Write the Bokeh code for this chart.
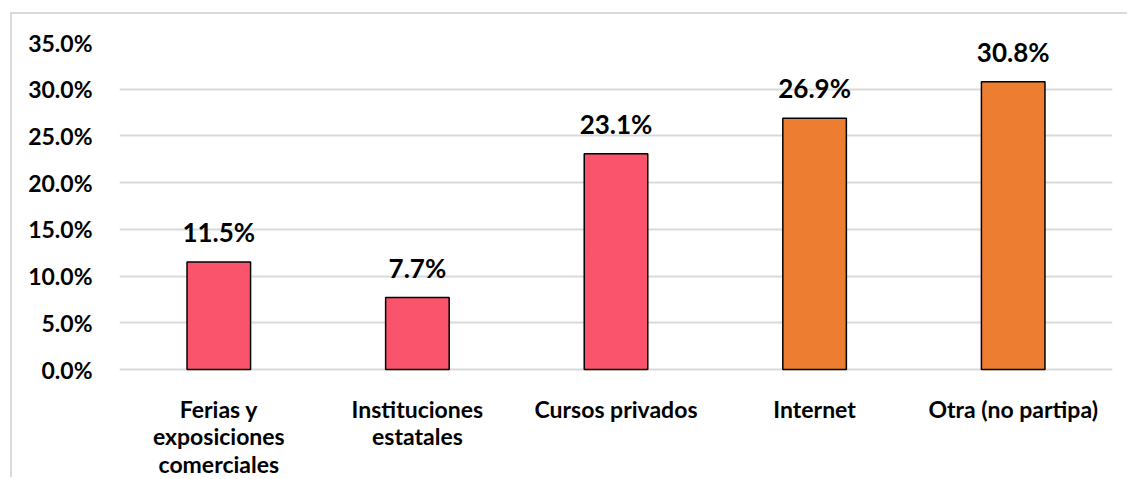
from bokeh.plotting import figure
from bokeh.models import ColumnDataSource, FixedTicker, Range1d
from bokeh.core.properties import value
from bokeh.embed import file_html
from bokeh.resources import INLINE

categories = ["Ferias y exposiciones comerciales", "Instituciones estatales",
              "Cursos privados", "Internet", "Otra (no partipa)"]
tick_labels = ["Ferias y\nexposiciones\ncomerciales", "Instituciones\nestatales",
               "Cursos privados", "Internet", "Otra (no partipa)"]
values = [11.5, 7.7, 23.1, 26.9, 30.8]
colors = ["#FA546C", "#FA546C", "#FA546C", "#ED7D31", "#ED7D31"]
labels = ["11.5%", "7.7%", "23.1%", "26.9%", "30.8%"]
y_ticks = [0, 5, 10, 15, 20, 25, 30, 35]

FONT = "Lato"
PX_PER_UNIT = (369 - 42) / 35.0   # frame scale
BELOW = (479 - 369) / PX_PER_UNIT  # room for category labels inside the frame

src = ColumnDataSource(dict(cat=categories, val=values, color=colors, label=labels))

# category label lines (one entry per line of text)
lx, lt, lo = [], [], []
for c, t in zip(categories, tick_labels):
    for i, line in enumerate(t.split("\n")):
        lx.append(c)
        lt.append(line)
        lo.append(39 + 27.5 * i)
lsrc = ColumnDataSource(dict(x=lx, text=lt, off=lo, y=[0] * len(lx)))

p = figure(x_range=categories, y_range=Range1d(-BELOW, 35), width=1117, height=465,
           output_backend="svg", toolbar_location=None,
           min_border_left=107, min_border_right=17, min_border_top=28, min_border_bottom=0)
p.styles = {"border-left": "2px solid #D9D9D9", "border-top": "2px solid #D9D9D9",
            "margin-left": "10px", "margin-top": "12px"}

p.vbar(x="cat", top="val", width=0.32, source=src, fill_color="color",
       line_color="black", line_width=1.5)

p.text(x="cat", y="val", text="label", source=src, text_align="center",
       text_baseline="alphabetic", y_offset=-30, text_font=value(FONT),
       text_font_style="bold", text_font_size="26px", text_color="black")

p.text(x="x", y="y", text="text", y_offset="off", source=lsrc, text_align="center",
       text_baseline="alphabetic", text_font=value(FONT), text_font_style="bold",
       text_font_size="23px", text_color="black")

p.yaxis.ticker = FixedTicker(ticks=y_ticks)
p.yaxis.major_label_overrides = {v: f"{v:.1f}%" for v in y_ticks}
p.yaxis.axis_line_color = None
p.yaxis.major_tick_line_color = None
p.yaxis.minor_tick_line_color = None
p.yaxis.major_label_standoff = 21
p.yaxis.major_label_text_font = FONT
p.yaxis.major_label_text_font_style = "bold"
p.yaxis.major_label_text_font_size = "23px"
p.yaxis.major_label_text_color = "black"

p.xaxis.visible = False

p.xgrid.grid_line_color = None
p.ygrid.grid_line_color = "#D9D9D9"
p.ygrid.grid_line_width = 2
p.outline_line_color = None

open("out.html", "w").write(file_html(p, INLINE))
